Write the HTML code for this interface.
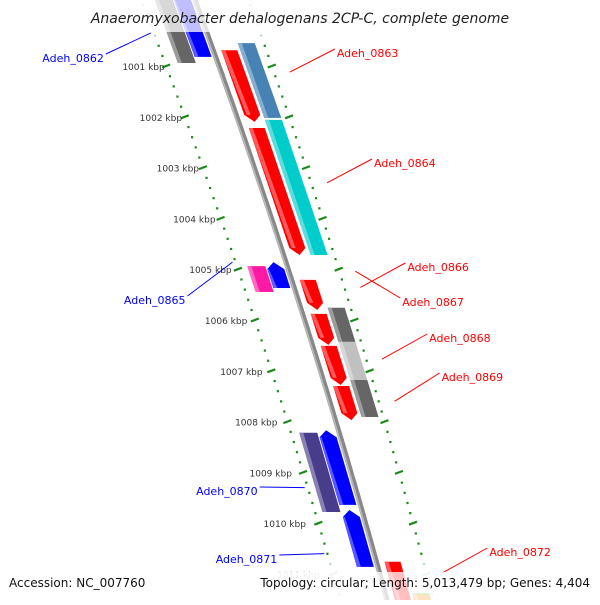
<!DOCTYPE html>
<html><head><meta charset="utf-8"><style>
body{margin:0;background:#fff}
svg text{font-family:"DejaVu Sans","Liberation Sans",sans-serif}
</style></head><body>
<svg id="map" width="600" height="600" viewBox="0 0 600 600" xmlns="http://www.w3.org/2000/svg">
<g id="ticks"></g>
<g id="genes"></g>
<g id="labels"></g>
<rect x="0" y="0" width="600" height="32" fill="#fff" opacity="0.75"/>
<text x="300" y="23" text-anchor="middle" font-size="14" font-style="italic" fill="#222">Anaeromyxobacter dehalogenans 2CP-C, complete genome</text>
<rect x="0" y="572" width="600" height="28" fill="#fff" opacity="0.75"/>
<text x="9" y="587" font-size="12" fill="#111">Accession: NC_007760</text>
<text x="590" y="587" font-size="12" text-anchor="end" fill="#111">Topology: circular; Length: 5,013,479 bp; Genes: 4,404</text>
</svg>
<script>
// genes: start/end kbp, strand, lane, colour
const geneStart=[999.5,999.5,1000.69,1000.55,1002.22,1002.06,1004.86,1004.94,1005.21,1005.88,1005.76,1006.51,1006.43,1007.30,1007.18,1008.17,1008.22,1009.74,1010.76,1011.38,1011.40];
const geneEnd  =[1000.82,1000.94,1002.10,1002.02,1004.72,1004.72,1005.37,1005.45,1005.80,1006.49,1006.43,1007.28,1007.18,1007.97,1007.91,1009.64,1009.78,1010.86,1011.7,1011.7,1011.7];
const geneStrand=[-1,-1,1,1,1,1,-1,-1,1,1,1,1,1,1,1,-1,-1,-1,1,1,1];
const geneLane=[0,1,0,1,0,1,0,1,0,0,1,0,1,0,1,0,1,0,0,1,1];
const geneColor=["#0000ff","#666666","#ff0000","#4682b4","#ff0000","#00cccc","#0000ff","#ff1aa6","#ff0000","#ff0000","#666666","#ff0000","#c0c0c0","#ff0000","#666666","#0000ff","#483d8b","#0000ff","#ff0000","#33cc33","#ff8c00"];
// labels
const labelText=["Adeh_0862","Adeh_0863","Adeh_0864","Adeh_0866","Adeh_0867","Adeh_0868","Adeh_0869","Adeh_0865","Adeh_0870","Adeh_0871","Adeh_0872"];
const labelKbp=[1000.35,1001.12,1003.3,1005.36,1005.04,1006.77,1007.6,1004.86,1009.3,1010.6,1010.98];
const labelSide=[-1,1,1,1,1,1,1,-1,-1,-1,1];
const labelY=[58,53,163,267,302,338,377,300,491,559,552];
const tickLabels=["1000 kbp","1001 kbp","1002 kbp","1003 kbp","1004 kbp","1005 kbp","1006 kbp","1007 kbp","1008 kbp","1009 kbp","1010 kbp","1011 kbp"];
const tickKbp=[1000,1001,1002,1003,1004,1005,1006,1007,1008,1009,1010,1011];

const NS="http://www.w3.org/2000/svg";
function yOf(k){return 66+(k-1001)*50.8;}
function bx(y){return 195+0.368*y-0.00008*y*y;}
function el(t,a,p){const e=document.createElementNS(NS,t);for(const k in a)e.setAttribute(k,a[k]);p.appendChild(e);return e;}
function lighten(c,f){const n=parseInt(c.slice(1),16);let r=n>>16,g=(n>>8)&255,b=n&255;r=Math.round(r+(255-r)*f);g=Math.round(g+(255-g)*f);b=Math.round(b+(255-b)*f);return `rgb(${r},${g},${b})`;}

const G=document.getElementById('genes'),T=document.getElementById('ticks'),L=document.getElementById('labels');
// backbone
let d="";for(let y=-5;y<=605;y+=5){d+=(y<0?"M":"L")+bx(y).toFixed(1)+" "+y+" ";}
const bb=el('path',{d:d,stroke:"#888",'stroke-width':5,fill:"none"},G);


el('path',{d:d,stroke:"#bbb",'stroke-width':1.5,fill:"none",transform:"translate(-1.5,0)"},G);

// ruler dots/ticks on both sides
for(let i=0;i<=60;i++){const k=999.6+i*0.2;const y=yOf(k);if(y<-5||y>605)continue;
 const major=Math.abs(k-Math.round(k))<0.01;
 [-50,50].forEach(o=>{const x=bx(y)+o+(o<0?(y-300)*0.012:-(y-300)*0.012);
  const op=(y<40||y>560)?0.3:1;
  if(major){const m=el('line',{x1:x-4,y1:y+1.5,x2:x+4,y2:y-1.5,stroke:"#1a8a1a",'stroke-width':2.2,opacity:op},T);
   }
  else{el('rect',{x:x-1,y:y-1,width:2.2,height:2.2,fill:"#1a8a1a",opacity:op},T);}
 });}
tickKbp.forEach((k,i)=>{const y=yOf(k);if(y<40||y>590)return;const x=bx(y)-50-(y-300)*0.012;
 const t=el('text',{x:x-7,y:y+4,'font-size':9,'text-anchor':'end',fill:"#333",opacity:y>560?0.3:1},T);
 t.textContent=tickLabels[i];});

// genes
function off(strand,lane){if(strand>0)return lane?[27,44]:[8,24];return lane?[-40,-22]:[-21,-4];}
geneStart.forEach((s,i)=>{const y1=yOf(s),y2=yOf(geneEnd[i]);const [a,b]=off(geneStrand[i],geneLane[i]);
 const c=geneColor[i];const tip=(c==="#666666"||c==="#c0c0c0"||c==="#4682b4"||c==="#00cccc"||c==="#483d8b"||c==="#ff1aa6")?0:7;
 let pts;const m=(a+b)/2;
 if(geneStrand[i]>0){pts=[[bx(y1)+a,y1],[bx(y1)+b,y1],[bx(y2-tip)+b,y2-tip],[bx(y2)+m,y2],[bx(y2-tip)+a,y2-tip]];}
 else{pts=[[bx(y1+tip)+a,y1+tip],[bx(y1)+m,y1],[bx(y1+tip)+b,y1+tip],[bx(y2)+b,y2],[bx(y2)+a,y2]];}
 const g=el('g',{},G);
 
 
 el('polygon',{points:pts.map(p=>p.join(',')).join(' '),fill:c},g);
 const w=4;const sp=[[bx(y1+(geneStrand[i]<0?tip:0))+a,y1+(geneStrand[i]<0?tip:0)],[bx(y1)+a+w,y1+(geneStrand[i]<0?tip:0)],[bx(y2)+a+w,y2-(geneStrand[i]>0?tip:0)],[bx(y2)+a,y2-(geneStrand[i]>0?tip:0)]];
 el('polygon',{points:sp.map(p=>p.join(',')).join(' '),fill:lighten(c,0.35)},g);
});

// labels
labelText.forEach((t,i)=>{const y=yOf(labelKbp[i]);const side=labelSide[i];const ly=labelY[i];
 const col=side>0?"#ff0000":"#0000ff";
 let x0,x1,tx;
 if(side>0){x0=bx(y)+66-(y-300)*0.012;x1=x0+45;tx=x1+2;}
 else{x0=bx(y)-53+(y-300)*0.012;x1=x0-45;tx=x1-2;}
 const ln=el('line',{x1:x0,y1:y,x2:x1,y2:ly-4,stroke:col,'stroke-width':1},L);
 
 const tt=el('text',{x:tx,y:ly+4,'font-size':11,fill:col,'text-anchor':side>0?'start':'end'},L);
 tt.textContent=t;});
</script>
</body></html>
